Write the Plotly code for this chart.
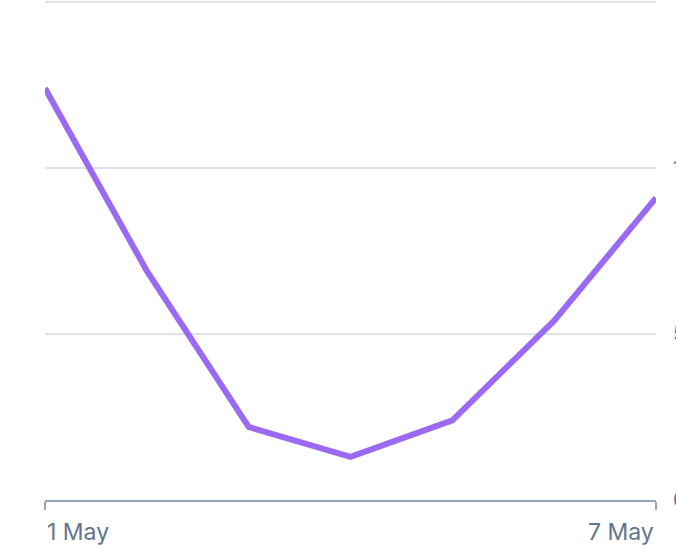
import plotly.graph_objects as go

# daily values
days = ["1 May", "2 May", "3 May", "4 May", "5 May", "6 May", "7 May"]
values = [124, 69, 22, 13, 24, 54, 91]
y_ticks = [0, 50, 100, 150]
y_labels = ["0", "50", "100", "150"]

TEXT = "#64748b"
AXIS = "#94a3b8"
GRID = "#dbe3ec"

fig = go.Figure()
fig.add_trace(go.Scatter(x=days, y=values, mode="lines",
                         line=dict(color="#9b6af2", width=6), hoverinfo="skip",
                         showlegend=False))

fig.update_xaxes(type="category", range=[0, len(days) - 1], showgrid=False,
                 showline=True, linecolor=AXIS, linewidth=1.5,
                 ticks="outside", ticklen=8, tickcolor=AXIS, tickwidth=1.5,
                 tickvals=[days[0], days[-1]], showticklabels=False,
                 zeroline=False, automargin=False)
fig.update_yaxes(side="right", range=[0, 150.6], tickvals=y_ticks, ticktext=y_labels,
                 showgrid=True, gridcolor=GRID, gridwidth=1.5, zeroline=False,
                 showline=False, ticks="", ticklabelstandoff=16,
                 tickfont=dict(size=20, color=TEXT), automargin=False)

for label, anchor in [(days[0], "left"), (days[-1], "right")]:
    fig.add_annotation(x=label, xref="x", y=0, yref="paper", yanchor="top",
                       xanchor=anchor, yshift=-16, showarrow=False, text=label,
                       font=dict(size=23, color=TEXT))

fig.update_layout(width=676, height=558, template="none",
                  font=dict(family="Inter, sans-serif", color=TEXT),
                  margin=dict(l=45, r=20, t=0, b=58),
                  paper_bgcolor="white", plot_bgcolor="white")

# drop the page's default body margin so the figure sits at the window corner
fig.write_html("out.html", config={"displayModeBar": False},
               post_script="document.body.style.margin='0';")
